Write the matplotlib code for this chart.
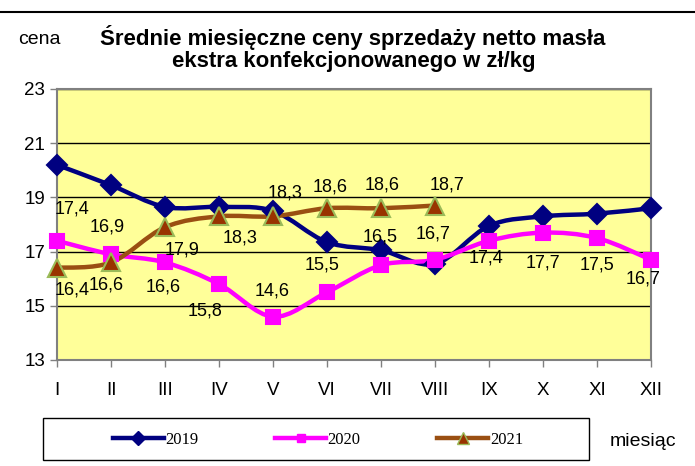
import numpy as np
import matplotlib.pyplot as plt
from matplotlib.path import Path
from matplotlib.patches import PathPatch, Rectangle
from matplotlib.lines import Line2D

plt.rcParams['font.family'] = ['Liberation Sans', 'DejaVu Sans']

# Data
months = ['I', 'II', 'III', 'IV', 'V', 'VI', 'VII', 'VIII', 'IX', 'X', 'XI', 'XII']
ceny_2019 = [20.2, 19.45, 18.65, 18.65, 18.5, 17.35, 17.05, 16.55, 17.95, 18.3, 18.4, 18.6]
ceny_2020 = [17.4, 16.9, 16.6, 15.8, 14.6, 15.5, 16.5, 16.7, 17.4, 17.7, 17.5, 16.7]
ceny_2021 = [16.4, 16.6, 17.9, 18.3, 18.3, 18.6, 18.6, 18.7]
lata = ['2019', '2020', '2021']

# label offsets (pixels) picked to match the original placement
off_2020 = [(15, 32), (-4, 27), (-2, -25), (-14, -27), (-1, 26), (-5, 27),
            (-1, 28), (-2, 26), (-3, -17), (0, -30), (0, -27), (-8, -19)]
off_2021 = [(15, -22), (-5, -23), (17, -23), (21, -22), (12, 23), (3, 21),
            (1, 23), (12, 21)]


def smooth_path(x, y):
    # Excel-like smoothed line (Catmull-Rom as cubic Bezier)
    n = len(x)
    verts = [(x[0], y[0])]
    codes = [Path.MOVETO]
    for i in range(n - 1):
        x0, y0 = (x[i - 1], y[i - 1]) if i > 0 else (x[i], y[i])
        x3, y3 = (x[i + 2], y[i + 2]) if i + 2 < n else (x[i + 1], y[i + 1])
        c1 = (x[i] + (x[i + 1] - x0) / 6, y[i] + (y[i + 1] - y0) / 6)
        c2 = (x[i + 1] - (x3 - x[i]) / 6, y[i + 1] - (y3 - y[i]) / 6)
        verts += [c1, c2, (x[i + 1], y[i + 1])]
        codes += [Path.CURVE4] * 3
    return Path(verts, codes)


fig = plt.figure(figsize=(6.95, 4.66), dpi=100)
ax = fig.add_axes([57 / 695, 1 - 360 / 466, (651 - 57) / 695, (360 - 89) / 466])
ax.set_facecolor('#FFFF99')

styles = [
    dict(color='#000080', marker='D', ms=10.5, mfc='#000080', mec='#000080'),
    dict(color='#FF00FF', marker='s', ms=9.5, mfc='#FF00FF', mec='#FF00FF'),
    dict(color='#9A4F12', marker='^', ms=12.5, mfc='#993300', mec='#9BBB59'),
]

for vals, st in zip([ceny_2019, ceny_2020, ceny_2021], styles):
    x = np.arange(len(vals))
    ax.add_patch(PathPatch(smooth_path(x, vals), fill=False, edgecolor=st['color'],
                           lw=3.2, zorder=3, capstyle='round', joinstyle='round'))
    ax.plot(x, vals, linestyle='none', marker=st['marker'], ms=st['ms'],
            mfc=st['mfc'], mec=st['mec'], mew=1.5, zorder=4, clip_on=False)

for vals, offs in [(ceny_2020, off_2020), (ceny_2021, off_2021)]:
    for i, (v, o) in enumerate(zip(vals, offs)):
        ax.annotate(f'{v:.1f}'.replace('.', ','), (i, v), xytext=o,
                    textcoords='offset pixels', ha='center', va='center',
                    fontsize=13, color='black', zorder=5)

ax.set_xlim(0, 11)
ax.set_ylim(13, 23)
ax.set_yticks(range(13, 24, 2))
ax.set_xticks(range(12))
ax.set_xticklabels(months)
ax.yaxis.grid(True, color='black', lw=1)
ax.set_axisbelow(True)
ax.tick_params(axis='both', labelsize=13.5, length=5, color='#808080', width=1)
ax.tick_params(axis='x', pad=11)
for s in ['left', 'bottom', 'right', 'top']:
    ax.spines[s].set_color('#808080')
    ax.spines[s].set_linewidth(1.5)

fig.text(353 / 695, 1 - 38 / 466, 'Średnie miesięczne ceny sprzedaży netto masła',
         ha='center', va='center', fontsize=16, fontweight='bold')
fig.text(354 / 695, 1 - 61 / 466, 'ekstra konfekcjonowanego w zł/kg',
         ha='center', va='center', fontsize=16, fontweight='bold')
fig.text(18 / 695, 1 - 39 / 466, 'cena', ha='left', va='center', fontsize=14)
fig.text(610 / 695, 1 - 441 / 466, 'miesiąc', ha='left', va='center', fontsize=14)

# top frame line
fig.add_artist(Line2D([0, 1], [1 - 12 / 466, 1 - 12 / 466], color='black', lw=1.5))

# legend box
fig.add_artist(Rectangle((43 / 695, 1 - 460 / 466), (589 - 43) / 695, 42 / 466,
                         transform=fig.transFigure, fill=False, edgecolor='black', lw=1))
handles = [Line2D([], [], color=st['color'], lw=3.2, marker=st['marker'],
                  ms=st['ms'] * 0.65, mfc=st['mfc'], mec=st['mec']) for st in styles]
fig.legend(handles, lata, loc='center', bbox_to_anchor=(318 / 695, 1 - 440 / 466),
           ncol=3, frameon=False, handlelength=3.05, columnspacing=4.6, handletextpad=0.1,
           prop={'family': 'Liberation Serif', 'size': 12})

fig.savefig('out.png', dpi=100)
